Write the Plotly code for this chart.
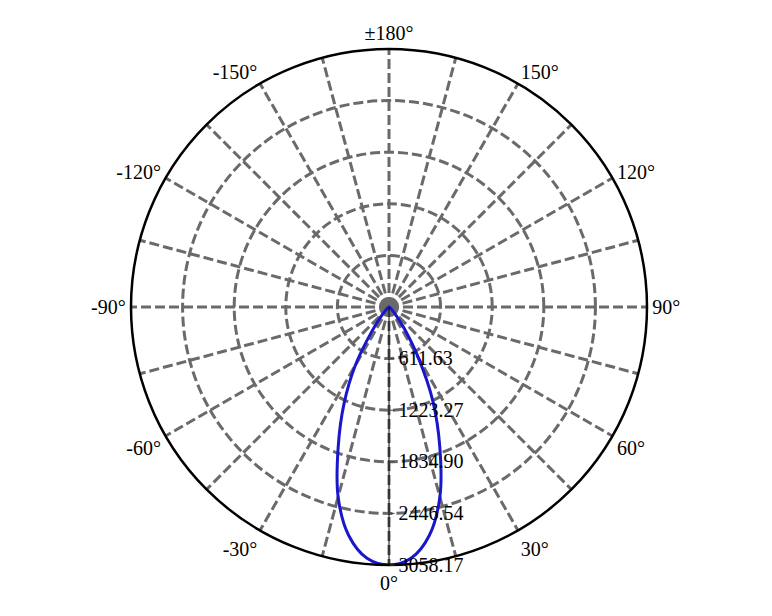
import plotly.graph_objects as go

# Luminous intensity distribution (cd) vs angle (deg)
angles = [-90, -80, -70, -60, -55, -50, -45, -40, -35, -30, -25, -20, -15, -10, -5,
          0, 5, 10, 15, 20, 25, 30, 35, 40, 45, 50, 55, 60, 70, 80, 90]
intensity = [0, 0, 0, 5, 10, 25, 60, 150, 360, 800, 1260, 1760, 2330, 2750, 2990,
             3058.17, 2990, 2750, 2330, 1760, 1230, 700, 330, 140, 60, 25, 10, 5, 0, 0, 0]

r_ticks = [611.63, 1223.27, 1834.90, 2446.54, 3058.17]
r_labels = ["611.63", "1223.27", "1834.90", "2446.54", "3058.17"]
theta_ticks = list(range(0, 360, 15))
theta_labels = ["0°", "", "30°", "", "60°", "", "90°", "", "120°", "", "150°", "",
                "±180°", "", "-150°", "", "-120°", "", "-90°", "", "-60°", "", "-30°", ""]

FONT = "Liberation Serif, Times New Roman, serif"
GRID = "#6a6a6a"

fig = go.Figure()
fig.add_trace(go.Scatterpolar(
    r=intensity, theta=angles, mode="lines",
    line=dict(color="#1a16cc", width=3, shape="spline"),
    showlegend=False, hoverinfo="skip",
))

fig.update_layout(
    width=772, height=616,
    margin=dict(l=123, r=133, t=41, b=59),
    paper_bgcolor="white",
    font=dict(family=FONT, size=20, color="black"),
    polar=dict(
        bgcolor="white",
        angularaxis=dict(
            rotation=-90, direction="counterclockwise",
            tickmode="array", tickvals=theta_ticks, ticktext=theta_labels,
            showgrid=True, gridcolor=GRID, griddash="10px,4px", gridwidth=2.5,
            showline=True, linecolor="black", linewidth=2.5,
            ticks="", tickfont=dict(family=FONT, size=20, color="black"),
        ),
        radialaxis=dict(
            range=[0, 3058.17], angle=-90,
            tickmode="array", tickvals=r_ticks, ticktext=r_labels,
            showgrid=True, gridcolor=GRID, griddash="10px,4px", gridwidth=2.5,
            showline=True, linecolor="black", linewidth=1,
            ticks="outside", ticklen=5, tickcolor="#444444",
            tickangle=-90, side="counterclockwise",
            tickfont=dict(family=FONT, size=20, color="black"),
        ),
    ),
)

fig.write_html("out.html")
